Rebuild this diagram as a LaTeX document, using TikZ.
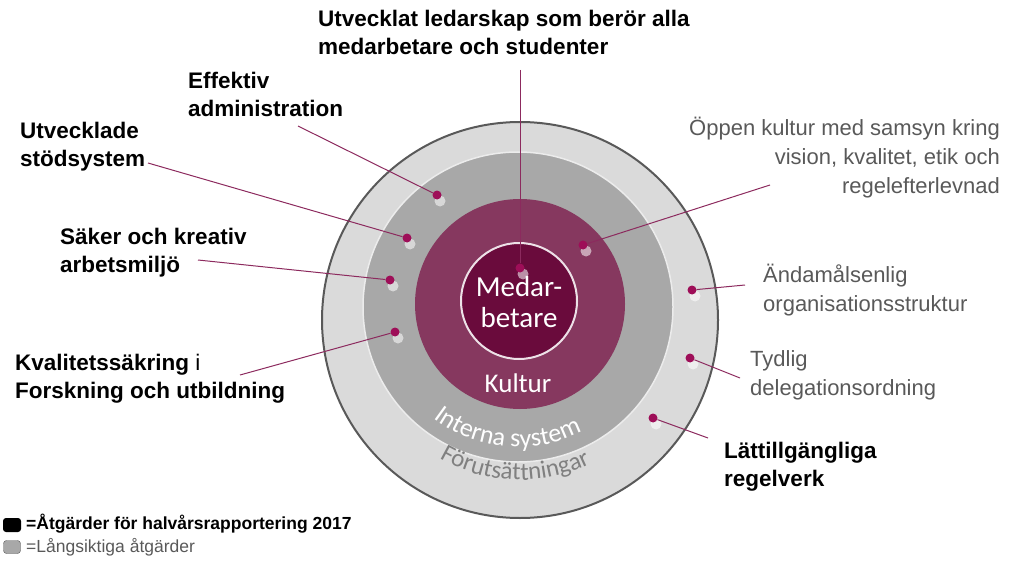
\documentclass[tikz,border=0pt]{standalone}
\usepackage{fontspec}
\setmainfont{Liberation Sans}
\newfontfamily\calfnt{Carlito}
\usetikzlibrary{decorations.text}
\definecolor{dotc}{HTML}{9E0E58}
\definecolor{kult}{HTML}{86385F}
\definecolor{medc}{HTML}{6A0B3C}
\definecolor{ring1}{HTML}{DADADA}
\definecolor{ring2}{HTML}{A8A8A8}
\definecolor{txtg}{HTML}{595959}
\definecolor{lnc}{HTML}{8C2A5E}
\tikzset{
 bl/.style={font=\fontsize{22.5}{28}\selectfont\bfseries,align=left,text=black,inner sep=0pt},
 gl/.style={font=\fontsize{22}{29}\selectfont,text=txtg,inner sep=0pt},
 dt/.style={circle,fill=dotc,inner sep=0pt,minimum size=9pt},
 ln/.style={draw=lnc,line width=1pt},
 glow/.style={fill=white,opacity=0.55,circle,inner sep=0pt,minimum size=11pt}
}
\begin{document}
\begin{tikzpicture}[x=1pt,y=-1pt]
\useasboundingbox (0,0) rectangle (1024,572);
% circles
\fill[ring1,draw=txtg,line width=2pt] (520,320) circle (198);
\fill[ring2,draw=white!85!gray,line width=1.5pt] (518,307) circle (155);
\fill[kult] (520,304) circle (105);
\fill[medc,draw=white!85!kult,line width=2pt] (519,301) circle (58);
% curved text
\begin{scope}[y=1pt]
\path[decorate,decoration={text along path,text align=center,
  text={|\calfnt\fontsize{26}{26}\selectfont\color{white}|Interna system}}]
  (518,-307) ++(205:140) arc[start angle=205,end angle=325,radius=140];
\path[decorate,decoration={text along path,text align=center,
  text={|\calfnt\fontsize{25}{25}\selectfont\color{gray}|Förutsättningar}}]
  (520,-320) ++(212:160) arc[start angle=212,end angle=324,radius=160];
\end{scope}
\node[text=white,font=\calfnt\fontsize{29}{31}\selectfont,align=center] (med) at (519,302) {Medar-\\betare};
\node[text=white,font=\calfnt\fontsize{27}{27}\selectfont] (kul) at (518,383) {Kultur};
% glows
\foreach \x/\y in {437/195,407/238,390/280,395/332,583/245,692/290,690/358,653/418,520/268}
 \node[glow] at (\x+3,\y+6) {};
% dots
\node[dt] (d0) at (520,268) {};
\node[dt] (d1) at (437,195) {};
\node[dt] (d2) at (407,238) {};
\node[dt] (d3) at (390,280) {};
\node[dt] (d4) at (395,332) {};
\node[dt] (d5) at (583,245) {};
\node[dt] (d6) at (692,290) {};
\node[dt] (d7) at (690,358) {};
\node[dt] (d8) at (653,418) {};
% texts
\node[bl,align=left,anchor=north west] (t0) at (318,10) {Utvecklat ledarskap som berör alla\\medarbetare och studenter};
\node[bl,anchor=north west] (t1) at (188,72) {Effektiv\\administration};
\node[bl,anchor=north west] (t2) at (20,122) {Utvecklade\\stödsystem};
\node[bl,anchor=north west] (t3) at (60,228) {Säker och kreativ\\arbetsmiljö};
\node[bl,anchor=north west] (t4) at (15,354) {Kvalitetssäkring {\mdseries i}\\Forskning och utbildning};
\node[gl,align=right,anchor=north east] (t5) at (1000,117) {Öppen kultur med samsyn kring\\vision, kvalitet, etik och\\regelefterlevnad};
\node[gl,align=left,anchor=north west] (t6) at (763,264) {Ändamålsenlig\\organisationsstruktur};
\node[gl,align=left,anchor=north west] (t7) at (750,350) {Tydlig\\delegationsordning};
\node[bl,anchor=north west] (t8) at (724,442) {Lättillgängliga\\regelverk};
% connectors
\coordinate (c0) at (520,70);
\coordinate (c1) at (298,126);
\coordinate (c2) at (148,163);
\coordinate (c3) at (198,260);
\coordinate (c4) at (240,375);
\coordinate (c5) at (770,185);
\coordinate (c6) at (745,285);
\coordinate (c7) at (740,378);
\coordinate (c8) at (708,438);
\foreach \i in {0,...,8} \draw[ln] (c\i) -- (d\i);
% legend
\node[fill=black,rounded corners=3pt,minimum width=18pt,minimum height=14pt,inner sep=0pt] (k1) at (12,525) {};
\node[fill=ring2,draw=txtg,rounded corners=3pt,minimum width=17pt,minimum height=13pt,inner sep=0pt] (k2) at (12,547) {};
\node[anchor=west,inner sep=0pt,font=\fontsize{17.5}{17}\selectfont\bfseries] (l1) at (26,524) {=Åtgärder för halvårsrapportering 2017};
\node[anchor=west,inner sep=0pt,font=\fontsize{17.5}{17}\selectfont,text=txtg] (l2) at (26,547) {=Långsiktiga åtgärder};
\end{tikzpicture}
\end{document}
